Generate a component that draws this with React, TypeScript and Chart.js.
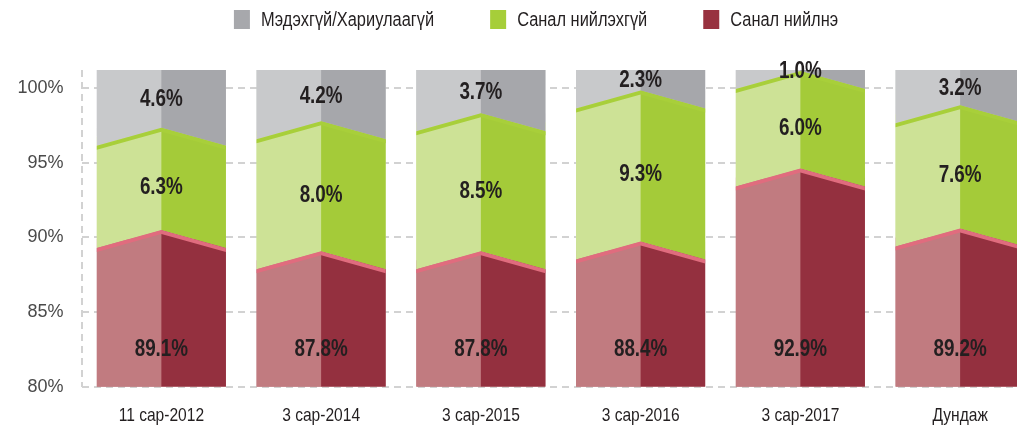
import React, { useEffect, useRef } from "react";
import { Chart, registerables } from "chart.js";

Chart.register(...registerables);

// ---------- data ----------
const categories = ["11 сар-2012", "3 сар-2014", "3 сар-2015", "3 сар-2016", "3 сар-2017", "Дундаж"];
const seriesNames = ["Санал нийлнэ", "Санал нийлэхгүй", "Мэдэхгүй/Хариулаагүй"];
const agreeValues = [89.1, 87.8, 87.8, 88.4, 92.9, 89.2];
const disagreeValues = [6.3, 8.0, 8.5, 9.3, 6.0, 7.6];
const unknownValues = [4.6, 4.2, 3.7, 2.3, 1.0, 3.2];
const yTickValues = [80, 85, 90, 95, 100];

// ---------- style ----------
const Y_MIN = 80;
const Y_MAX = 101.2;
const FRONT_FACE_SCALE = 1.086; // 3D front face is nearer than the back-wall grid
const RIDGE = 9; // slope of the prism edges (px)
const RIM = 4; // lit top rim thickness (px)
const RED_LABEL_AT = 82.5;
const NARROW_X = 0.82; // horizontal squeeze that turns Liberation Sans into a narrow face
const SANS = '"Liberation Sans", Arial, sans-serif';
const INK = "#231f20";

const faces = [
  { light: "#c17b80", dark: "#94303f", rim: "#e06c7e", legend: "#98313f" },
  { light: "#cde296", dark: "#a4cb39", rim: "#a8cf3a", legend: "#a6ce39" },
  { light: "#c8c9cb", dark: "#a6a7ab", rim: "", legend: "#a7a8ac" },
];
const seriesValues = [agreeValues, disagreeValues, unknownValues];

function narrowText(ctx: any, text: string, x: number, y: number, align: string) {
  ctx.save();
  ctx.translate(x, y);
  ctx.scale(NARROW_X, 1);
  ctx.textAlign = align;
  ctx.fillText(text, 0, 0);
  ctx.restore();
}

const prismPlugin = {
  id: "prism",
  afterDatasetsDraw(chart: any) {
    const { ctx, chartArea } = chart;
    const metas = [0, 1, 2].map((i) => chart.getDatasetMeta(i));
    const n = chart.data.labels.length;
    ctx.save();
    ctx.beginPath();
    ctx.rect(chartArea.left, chartArea.top, chartArea.right - chartArea.left, chartArea.bottom - chartArea.top);
    ctx.clip();
    for (let i = 0; i < n; i++) {
      const els = metas.map((m: any) => m.data[i]);
      const e0 = els[0];
      const half = e0.width / 2;
      const xl = e0.x - half;
      const xc = e0.x;
      const xr = e0.x + half;
      const bounds = [
        { y: Math.min(e0.base, chartArea.bottom), flat: true },
        { y: els[0].y, flat: false },
        { y: els[1].y, flat: false },
        { y: Math.max(Math.min(els[2].y, chartArea.top), chartArea.top - 2), flat: true },
      ];
      const edge = (b: any) => (b.flat ? b.y : b.y + RIDGE);
      const cen = (b: any) => (b.flat ? b.y : b.y - RIDGE);
      for (let k = 0; k < 3; k++) {
        const lo = bounds[k];
        const up = bounds[k + 1];
        ctx.fillStyle = faces[k].light;
        ctx.beginPath();
        ctx.moveTo(xl, edge(up));
        ctx.lineTo(xc + 0.5, cen(up));
        ctx.lineTo(xc + 0.5, cen(lo));
        ctx.lineTo(xl, edge(lo));
        ctx.closePath();
        ctx.fill();
        ctx.fillStyle = faces[k].dark;
        ctx.beginPath();
        ctx.moveTo(xc, cen(up));
        ctx.lineTo(xr, edge(up));
        ctx.lineTo(xr, edge(lo));
        ctx.lineTo(xc, cen(lo));
        ctx.closePath();
        ctx.fill();
      }
      for (let k = 0; k < 2; k++) {
        const b = bounds[k + 1];
        ctx.fillStyle = faces[k].rim;
        ctx.beginPath();
        ctx.moveTo(xl, edge(b));
        ctx.lineTo(xc, cen(b));
        ctx.lineTo(xr, edge(b));
        ctx.lineTo(xr, edge(b) + RIM);
        ctx.lineTo(xc, cen(b) + RIM);
        ctx.lineTo(xl, edge(b) + RIM);
        ctx.closePath();
        ctx.fill();
      }
    }
    ctx.restore();

    // value labels
    ctx.save();
    ctx.font = `bold 23px ${SANS}`;
    ctx.fillStyle = INK;
    ctx.textBaseline = "middle";
    const yGrid = chart.scales.y;
    for (let k = 0; k < 3; k++) {
      metas[k].data.forEach((el: any, i: number) => {
        const v = chart.data.datasets[k].data[i];
        const y = k === 0 ? yGrid.getPixelForValue(RED_LABEL_AT) : (el.y + el.base) / 2;
        narrowText(ctx, `${Number(v).toFixed(1)}%`, el.x, y, "center");
      });
    }
    ctx.restore();
  },
  afterDraw(chart: any) {
    const { ctx, chartArea } = chart;
    // category labels along the x scale
    ctx.save();
    ctx.font = `19px ${SANS}`;
    ctx.fillStyle = INK;
    ctx.textBaseline = "alphabetic";
    const xs = chart.scales.x;
    xs.ticks.forEach((t: any, i: number) => {
      narrowText(ctx, String(xs.getLabelForValue(t.value)), xs.getPixelForTick(i), chartArea.bottom + 34.5, "center");
    });
    ctx.restore();

    // legend
    ctx.save();
    ctx.font = `20px ${SANS}`;
    ctx.textBaseline = "middle";
    const order = [2, 1, 0];
    const boxW = 16;
    const boxH = 19;
    const gapText = 11;
    const gapItem = 56;
    const widths = order.map((k) => ctx.measureText(chart.data.datasets[k].label).width * NARROW_X);
    const total = widths.reduce((a: number, w: number) => a + w + boxW + gapText, 0) + gapItem * (order.length - 1);
    let x = 536 - total / 2;
    order.forEach((k, j) => {
      ctx.fillStyle = faces[k].legend;
      ctx.fillRect(x, 10, boxW, boxH);
      ctx.fillStyle = INK;
      narrowText(ctx, chart.data.datasets[k].label, x + boxW + gapText, 20, "left");
      x += boxW + gapText + widths[j] + gapItem;
    });
    ctx.restore();
  },
};

export default function App() {
  const ref = useRef<HTMLCanvasElement | null>(null);
  useEffect(() => {
    if (!ref.current) return;
    const chart = new Chart(ref.current, {
      type: "bar",
      data: {
        labels: categories,
        datasets: seriesValues.map((vals, k) => ({
          label: seriesNames[k],
          data: vals,
          backgroundColor: faces[k].light,
          borderWidth: 0,
          barPercentage: 0.808,
          categoryPercentage: 1,
          xAxisID: "x",
          yAxisID: "yb",
        })),
      },
      options: {
        responsive: false,
        animation: false,
        devicePixelRatio: 1,
        layout: { padding: { top: 70, left: 0, right: 0, bottom: 0 } },
        plugins: { legend: { display: false }, tooltip: { enabled: false } },
        scales: {
          x: {
            type: "category",
            stacked: true,
            offset: true,
            afterFit: (s: any) => {
              s.height = 39.3;
            },
            grid: {
              display: true,
              drawTicks: false,
              offset: true,
              lineWidth: 2,
              color: (c: any) => (c.index === 0 ? "#d2d2d2" : "rgba(0,0,0,0)"),
            },
            border: { display: false, dash: [7, 5] },
            ticks: { color: "rgba(0,0,0,0)", font: { family: SANS, size: 19 }, padding: 15 },
          },
          y: {
            type: "linear",
            position: "left",
            min: Y_MIN,
            max: Y_MAX,
            afterBuildTicks: (s: any) => {
              s.ticks = yTickValues.map((v) => ({ value: v }));
            },
            afterFit: (s: any) => {
              s.width = 81.5;
            },
            grid: { color: "#d2d2d2", lineWidth: 2, drawTicks: false },
            border: { display: false, dash: [7, 5] },
            ticks: {
              color: "#4a4a4a",
              font: { family: SANS, size: 18 },
              padding: 18,
              callback: (v: any) => `${v}%`,
            },
          },
          yb: {
            type: "linear",
            position: "left",
            display: false,
            stacked: true,
            min: Y_MIN,
            max: Y_MIN + (Y_MAX - Y_MIN) / FRONT_FACE_SCALE,
          },
        },
      },
      plugins: [prismPlugin],
    });
    return () => chart.destroy();
  }, []);
  return (
    <div
      style={{
        position: "fixed",
        left: 0,
        top: 0,
        width: 1017,
        height: 426,
        overflow: "hidden",
        background: "#fff",
      }}
    >
      <canvas ref={ref} width={1040} height={426} style={{ display: "block", width: 1040, height: 426 }} />
    </div>
  );
}
